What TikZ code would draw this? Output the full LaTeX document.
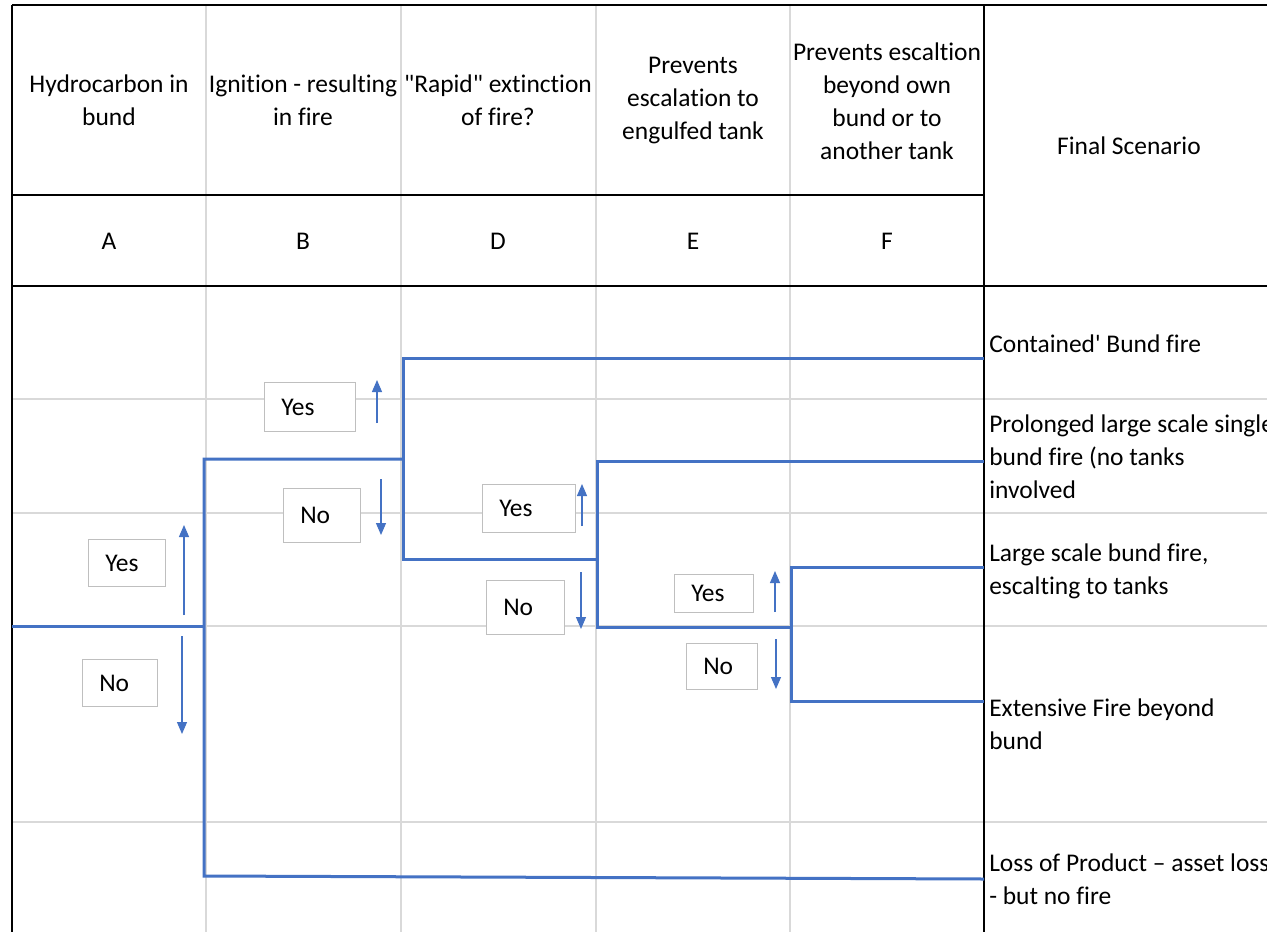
\documentclass[tikz,border=0pt]{standalone}
\usepackage{fontspec}
\setmainfont{Carlito}[Ligatures={TeX,NoCommon}]
\usepackage{xcolor}
\usepackage{tikz}
\usetikzlibrary{arrows.meta}

\definecolor{treeblue}{HTML}{4472C4}
\definecolor{gridgray}{HTML}{D9D9D9}
\definecolor{boxgray}{HTML}{BFBFBF}

\tikzset{
	branch/.style={color=treeblue, line width=2.25pt},
	flow/.style={color=treeblue, line width=0.9pt, -{Triangle[width=7.5pt,length=9pt]}},
	answer/.style={draw=boxgray, fill=white, line width=1.1pt, anchor=north west, inner sep=0pt},
	txt/.style={inner sep=0pt, font=\fontsize{19.1}{24.75}\selectfont},
	head/.style={txt, align=center},
	outcome/.style={txt, align=left, anchor=west}
}

\begin{document}
\begin{tikzpicture}[x=0.75pt, y=-0.75pt]
\clip (0,0) rectangle (1267,932);
\fill[white] (0,0) rectangle (1267,932);

% sheet grid
\foreach \a in {206,401,596,790}{
	\draw[color=gridgray, line width=1pt] (\a,5)--(\a,932);
}
\foreach \a in {399,513,626,822}{
	\draw[color=gridgray, line width=1pt] (12,\a)--(1267,\a);
}
\draw[color=black, line width=1.5pt] (12,5)--(1267,5);
\draw[color=black, line width=1.5pt] (12,195)--(984,195);
\draw[color=black, line width=1.5pt] (12,286)--(1267,286);
\draw[color=black, line width=1.5pt] (12,5)--(12,932);
\draw[color=black, line width=1.5pt] (984,5)--(984,932);

% column headings
\node[head] (hA) at (109,100) {Hydrocarbon in\\bund};
\node[head] (hB) at (303,100) {Ignition - resulting\\in fire};
\node[head] (hD) at (498,100) {\textquotedbl Rapid\textquotedbl{} extinction\\of fire?};
\node[head] (hE) at (693,101) {Prevents\\escalation to\\engulfed tank};
\node[head] (hF) at (887,101) {Prevents escaltion\\beyond own\\bund or to\\another tank};
\node[head] (hfin) at (1129,146) {Final Scenario};
\foreach \nm/\x in {A/109,B/303,D/498,E/693,F/887}{
	\node[head] (l\nm) at (\x,241) {\nm};
}

% branch points of the tree
\coordinate (start) at (12,626);
\coordinate (A) at (204,626);
\coordinate (Ayes) at (204,459);
\coordinate (Ano) at (204,876);
\coordinate (B) at (403,459);
\coordinate (Byes) at (403,358);
\coordinate (Bno) at (403,559);
\coordinate (D) at (597,559);
\coordinate (Dyes) at (597,461);
\coordinate (Dno) at (597,627);
\coordinate (E) at (791,627);
\coordinate (Eyes) at (791,567);
\coordinate (Eno) at (791,701);
\coordinate (f1) at (984,358);
\coordinate (f2) at (984,461);
\coordinate (f3) at (984,567);
\coordinate (f4) at (984,701);
\coordinate (f5) at (984,879);

\draw[branch] (start) -- (A);
\draw[branch] (B) -- (Ayes) -- (Ano) -- (f5);
\draw[branch] (f1) -- (Byes) -- (Bno) -- (D);
\draw[branch] (f2) -- (Dyes) -- (Dno) -- (E);
\draw[branch] (f3) -- (Eyes) -- (Eno) -- (f4);

% yes / no boxes
\foreach \nm/\xa/\ya/\xb/\yb/\ans in {yesA/88/539/165/586/Yes, noA/82/659/157/706/No,
		yesB/264/382/355/431/Yes, noB/283/488/360/542/No,
		yesD/482/484/575/532/Yes, noD/486/580/564/634/No,
		yesE/674/574/753/612/Yes, noE/686/643/757/689/No}{
	\pgfmathsetmacro\w{(\xb-\xa)*0.75}
	\pgfmathsetmacro\h{(\yb-\ya)*0.75}
	\node[answer, minimum width=\w pt, minimum height=\h pt] (\nm) at (\xa,\ya) {};
	\node[txt, anchor=west, xshift=12.75pt] (\nm-t) at (\nm.west) {\ans};
}

% yes / no arrows
\foreach \x/\ya/\yb in {184/615/525, 182/636/734, 377/423/380, 381/479/535,
		582/526/484, 581/572/629, 775/612/571, 776/639/689}{
	\draw[flow] (\x,\ya)--(\x,\yb);
}

% final scenarios
\node[outcome] (o1) at (989,344) {Contained\textquotesingle{} Bund fire};
\node[outcome] (o2) at (989,457) {Prolonged large scale single\\bund fire (no tanks\\involved};
\node[outcome] (o3) at (989,571) {Large scale bund fire,\\escalting to tanks};
\node[outcome] (o4) at (989,724) {Extensive Fire beyond\\bund};
\node[outcome] (o5) at (989,879) {Loss of Product -- asset loss\\- but no fire};
\end{tikzpicture}
\end{document}
